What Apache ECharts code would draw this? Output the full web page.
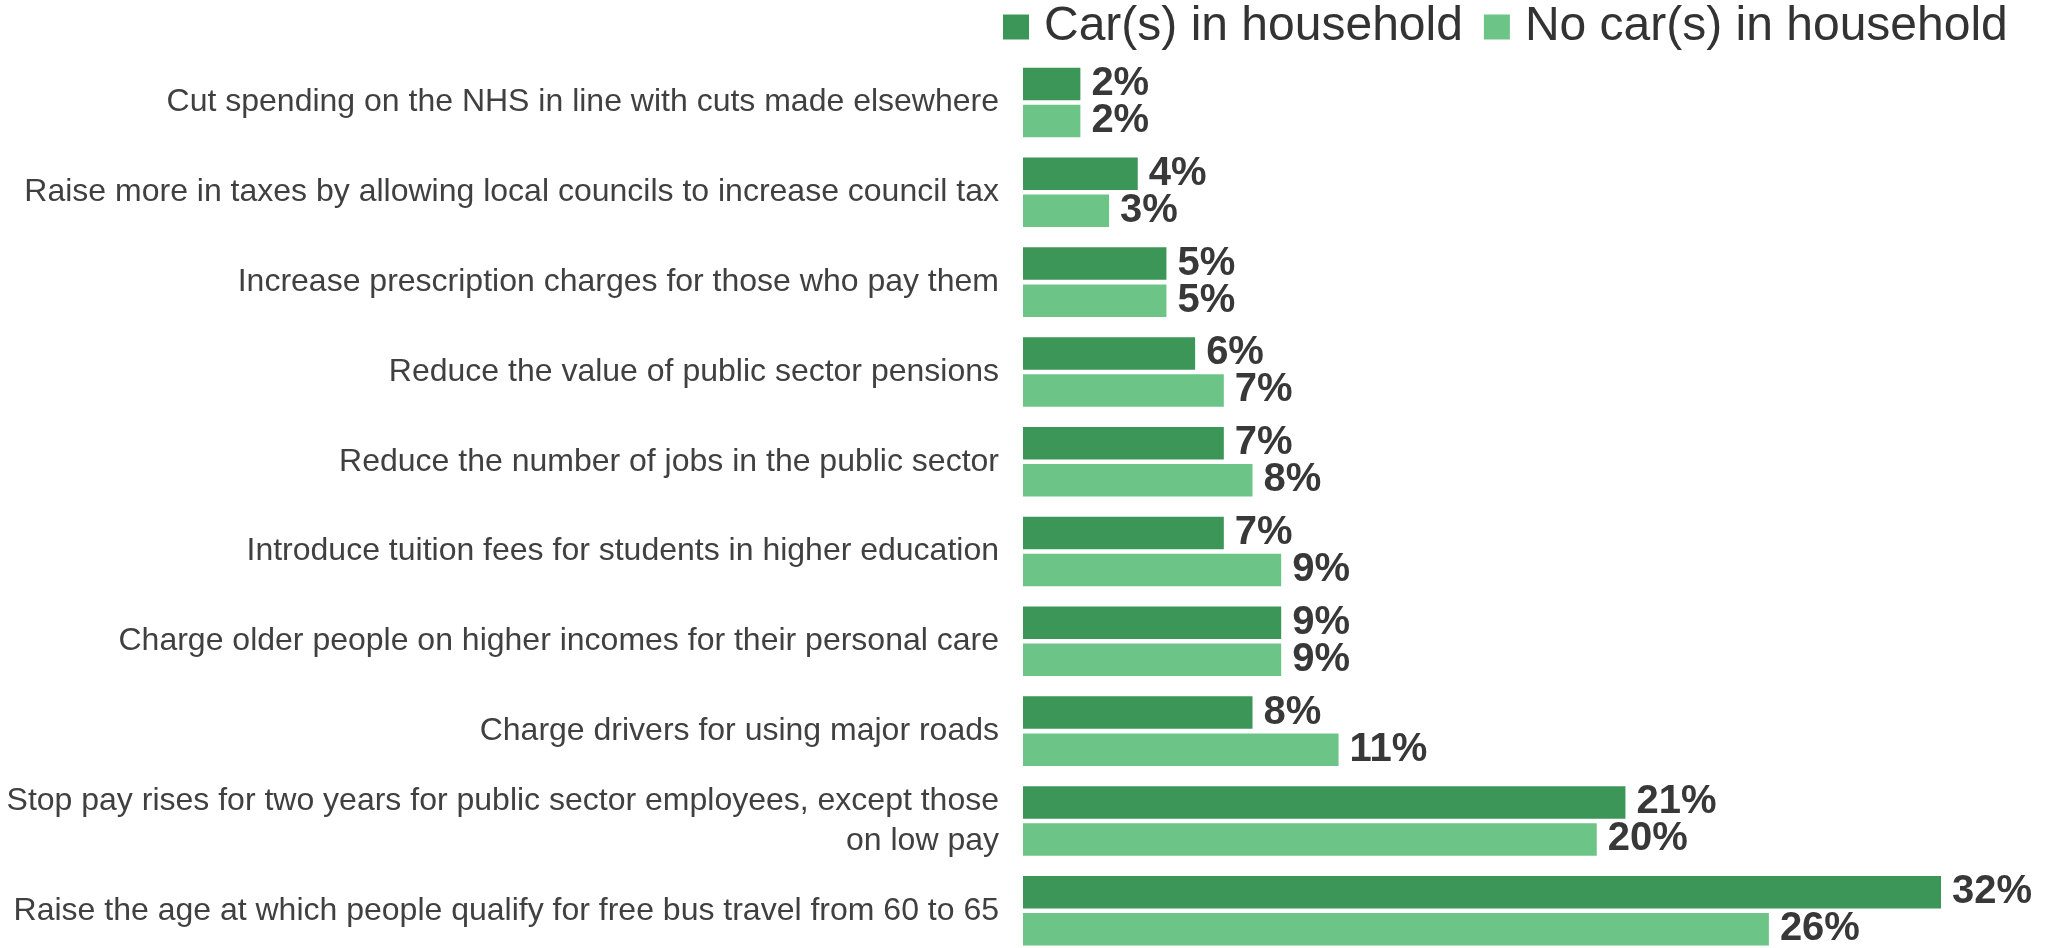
<!DOCTYPE html>
<html>
<head>
<meta charset="utf-8">
<script src="https://cdn.jsdelivr.net/npm/echarts@6/dist/echarts.min.js"></script>
<style>
html,body{margin:0;padding:0;background:#fff;}
#chart{width:2049px;height:948px;}
</style>
</head>
<body>
<div id="chart"></div>
<script>
const categories = [
  "Cut spending on the NHS in line with cuts made elsewhere",
  "Raise more in taxes by allowing local councils to increase council tax",
  "Increase prescription charges for those who pay them",
  "Reduce the value of public sector pensions",
  "Reduce the number of jobs in the public sector",
  "Introduce tuition fees for students in higher education",
  "Charge older people on higher incomes for their personal care",
  "Charge drivers for using major roads",
  "Stop pay rises for two years for public sector employees, except those\non low pay",
  "Raise the age at which people qualify for free bus travel from 60 to 65"
];
const seriesNames = ["Car(s) in household", "No car(s) in household"];
const carValues   = [2, 4, 5, 6, 7, 7, 9, 8, 21, 32];
const noCarValues = [2, 3, 5, 7, 8, 9, 9, 11, 20, 26];

const chart = echarts.init(document.getElementById('chart'));
const labelStyle = {
  show: true,
  position: 'right',
  distance: 11,
  formatter: p => p.value + '%',
  fontFamily: '"Liberation Sans Narrow", "Arial Narrow", "Liberation Sans", Arial, sans-serif',
  fontWeight: 'bold',
  fontSize: 40,
  color: '#383838'
};
chart.setOption({
  animation: false,
  backgroundColor: '#ffffff',
  legend: {
    left: 1003,
    top: 3,
    padding: 0,
    itemWidth: 26,
    itemHeight: 25,
    itemGap: 21,
    icon: 'rect',
    textStyle: {
      fontFamily: '"Liberation Sans", Arial, sans-serif',
      fontSize: 48,
      lineHeight: 48,
      color: '#333333',
      padding: [0, 0, 0, 10]
    },
    data: seriesNames
  },
  grid: {
    left: 1023,
    top: 57.6,
    height: 898,
    width: 918,
    containLabel: false,
    outerBoundsMode: 'none'
  },
  xAxis: {
    type: 'value',
    min: 0,
    max: 32,
    show: false
  },
  yAxis: {
    type: 'category',
    inverse: true,
    data: categories,
    axisLine: { show: false },
    axisTick: { show: false },
    splitLine: { show: false },
    axisLabel: {
      margin: 24,
      fontFamily: '"Liberation Sans", Arial, sans-serif',
      fontSize: 32,
      lineHeight: 40,
      color: '#404040',
      align: 'right',
      padding: [8, 0, 0, 0]
    }
  },
  series: [
    {
      name: seriesNames[0],
      type: 'bar',
      data: carValues,
      barWidth: 32.5,
      barGap: '14%',
      itemStyle: { color: '#3c9658' },
      label: labelStyle
    },
    {
      name: seriesNames[1],
      type: 'bar',
      data: noCarValues,
      barWidth: 32.5,
      barGap: '14%',
      itemStyle: { color: '#6cc586' },
      label: labelStyle
    }
  ]
});
</script>
</body>
</html>
